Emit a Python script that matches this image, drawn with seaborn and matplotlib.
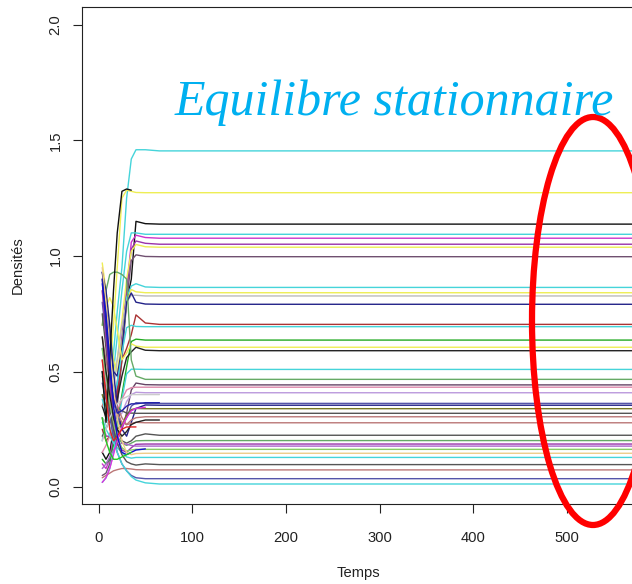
import numpy as np
import pandas as pd
import matplotlib
matplotlib.use("Agg")
import matplotlib.pyplot as plt
from matplotlib.patches import Ellipse
import seaborn as sns

nan = np.nan

# time points (Temps) at which the densities are read
temps = [4, 8, 12, 16, 20, 25, 30, 35, 40, 50, 65, 600]

# long trajectories (reach a stationary equilibrium)
s01 = [0.20, 0.30, 0.42, 0.58, 0.76, 0.95, 1.25, 1.42, 1.46, 1.46, 1.455, 1.455]
s02 = [0.55, 0.45, 0.50, 0.70, 0.95, 1.25, 1.285, 1.28, 1.275, 1.274, 1.274, 1.274]
s03 = [0.15, 0.12, 0.15, 0.25, 0.40, 0.62, 0.80, 0.90, 1.15, 1.14, 1.138, 1.138]
s04 = [0.40, 0.35, 0.38, 0.50, 0.65, 0.85, 1.02, 1.10, 1.10, 1.094, 1.094, 1.094]
s05 = [0.10, 0.08, 0.12, 0.22, 0.38, 0.60, 0.85, 1.06, 1.09, 1.08, 1.077, 1.077]
s06 = [0.30, 0.22, 0.22, 0.30, 0.45, 0.65, 0.85, 1.03, 1.065, 1.055, 1.051, 1.051]
s07 = [0.85, 0.70, 0.55, 0.50, 0.55, 0.72, 0.90, 1.02, 1.05, 1.04, 1.038, 1.038]
s08 = [0.05, 0.06, 0.10, 0.20, 0.35, 0.55, 0.80, 0.98, 1.005, 0.998, 0.997, 0.997]
s09 = [0.50, 0.40, 0.35, 0.38, 0.45, 0.60, 0.82, 0.87, 0.88, 0.866, 0.864, 0.864]
s10 = [0.97, 0.85, 0.70, 0.55, 0.50, 0.62, 0.80, 0.855, 0.845, 0.841, 0.841, 0.841]
s11 = [0.30, 0.28, 0.33, 0.42, 0.55, 0.70, 0.80, 0.83, 0.83, 0.827, 0.827, 0.827]
s12 = [0.93, 0.80, 0.62, 0.50, 0.48, 0.60, 0.80, 0.84, 0.80, 0.792, 0.791, 0.791]
s13 = [0.25, 0.20, 0.22, 0.30, 0.40, 0.55, 0.60, 0.66, 0.745, 0.71, 0.704, 0.704]
s14 = [0.60, 0.50, 0.42, 0.40, 0.45, 0.58, 0.69, 0.70, 0.695, 0.694, 0.694, 0.694]
s15 = [0.12, 0.10, 0.12, 0.18, 0.28, 0.40, 0.52, 0.63, 0.64, 0.636, 0.636, 0.636]
s16 = [0.70, 0.78, 0.82, 0.78, 0.68, 0.55, 0.58, 0.62, 0.61, 0.605, 0.605, 0.605]
s17 = [0.35, 0.30, 0.28, 0.30, 0.38, 0.48, 0.56, 0.585, 0.605, 0.592, 0.590, 0.590]
s18 = [0.02, 0.04, 0.08, 0.15, 0.25, 0.38, 0.49, 0.51, 0.51, 0.509, 0.509, 0.509]
s19 = [0.70, 0.85, 0.92, 0.93, 0.93, 0.92, 0.90, 0.55, 0.48, 0.466, 0.466, 0.466]
s20 = [0.90, 0.75, 0.55, 0.40, 0.30, 0.25, 0.32, 0.42, 0.45, 0.443, 0.442, 0.442]
s21 = [0.15, 0.18, 0.22, 0.28, 0.33, 0.38, 0.42, 0.43, 0.432, 0.432, 0.432, 0.432]
s22 = [0.55, 0.45, 0.38, 0.33, 0.30, 0.32, 0.37, 0.40, 0.41, 0.408, 0.408, 0.408]
s23 = [0.80, 0.65, 0.50, 0.38, 0.30, 0.26, 0.30, 0.35, 0.365, 0.362, 0.362, 0.362]
s24 = [0.93, 0.85, 0.70, 0.50, 0.35, 0.25, 0.22, 0.28, 0.34, 0.355, 0.354, 0.354]
s25 = [0.40, 0.35, 0.30, 0.26, 0.25, 0.27, 0.31, 0.335, 0.34, 0.339, 0.339, 0.339]
s26 = [0.22, 0.25, 0.30, 0.33, 0.34, 0.33, 0.32, 0.32, 0.319, 0.319, 0.319, 0.319]
s27 = [0.65, 0.55, 0.45, 0.38, 0.32, 0.28, 0.27, 0.29, 0.30, 0.304, 0.304, 0.304]
s28 = [0.35, 0.40, 0.42, 0.40, 0.35, 0.30, 0.27, 0.275, 0.28, 0.278, 0.278, 0.278]
s29 = [0.75, 0.60, 0.45, 0.33, 0.25, 0.20, 0.19, 0.20, 0.22, 0.23, 0.224, 0.224]
s30 = [0.48, 0.40, 0.32, 0.26, 0.22, 0.19, 0.18, 0.19, 0.20, 0.201, 0.201, 0.201]
s31 = [0.85, 0.65, 0.45, 0.30, 0.22, 0.16, 0.15, 0.17, 0.185, 0.186, 0.186, 0.186]
s32 = [0.08, 0.10, 0.13, 0.16, 0.18, 0.19, 0.185, 0.18, 0.177, 0.177, 0.177, 0.177]
s33 = [0.60, 0.48, 0.36, 0.27, 0.21, 0.17, 0.155, 0.16, 0.163, 0.163, 0.163, 0.163]
s34 = [0.95, 0.80, 0.60, 0.42, 0.30, 0.20, 0.15, 0.14, 0.145, 0.146, 0.146, 0.146]
s35 = [0.28, 0.25, 0.22, 0.19, 0.17, 0.15, 0.13, 0.125, 0.128, 0.128, 0.128, 0.128]
s36 = [0.50, 0.42, 0.33, 0.25, 0.19, 0.14, 0.11, 0.10, 0.095, 0.10, 0.097, 0.097]
s37 = [0.04, 0.05, 0.06, 0.07, 0.075, 0.08, 0.08, 0.078, 0.075, 0.074, 0.074, 0.074]
s38 = [0.45, 0.38, 0.30, 0.22, 0.15, 0.10, 0.07, 0.05, 0.04, 0.036, 0.036, 0.036]
s39 = [0.38, 0.32, 0.26, 0.20, 0.15, 0.10, 0.07, 0.045, 0.03, 0.018, 0.013, 0.013]

# short trajectories (runs that stop early)
c01 = [0.50, 0.28, 0.55, 0.85, 1.10, 1.28, 1.29, 1.285, nan, nan, nan, nan]
c02 = [0.20, 0.25, 0.30, 0.33, 0.36, 0.38, 0.39, 0.40, 0.40, 0.40, 0.40, nan]
c03 = [0.90, 0.70, 0.50, 0.38, 0.32, 0.33, 0.35, 0.36, 0.36, 0.365, 0.365, nan]
c04 = [0.65, 0.50, 0.40, 0.30, 0.25, 0.22, 0.24, 0.27, 0.28, 0.29, 0.29, nan]
c05 = [0.02, 0.04, 0.08, 0.14, 0.20, 0.26, 0.30, 0.33, 0.34, 0.345, nan, nan]
c06 = [0.55, 0.40, 0.25, 0.20, 0.22, 0.25, 0.26, 0.26, 0.26, nan, nan, nan]
c07 = [0.88, 0.75, 0.55, 0.35, 0.22, 0.15, 0.14, 0.15, 0.16, 0.165, nan, nan]
c08 = [0.30, 0.20, 0.15, 0.12, 0.12, 0.13, 0.14, 0.15, nan, nan, nan, nan]

series = [s01, s02, s03, s04, s05, s06, s07, s08, s09, s10, s11, s12, s13,
          s14, s15, s16, s17, s18, s19, s20, s21, s22, s23, s24, s25, s26,
          s27, s28, s29, s30, s31, s32, s33, s34, s35, s36, s37, s38, s39,
          c01, c02, c03, c04, c05, c06, c07, c08]

colors = ["#45D4DA", "#EEEE55", "#111111", "#45D4DA", "#CC33CC", "#9933AA",
          "#EEEE55", "#705070", "#45D4DA", "#EEEE55", "#BBBBBB", "#222288",
          "#AA3333", "#45D4DA", "#22AA22", "#EEEE55", "#222222", "#45D4DA",
          "#66AA66", "#664466", "#DD88AA", "#BB99DD", "#5555AA", "#222288",
          "#777722", "#555555", "#BB7777", "#BB7777", "#555555", "#66AA66",
          "#9933AA", "#AA66CC", "#88CC66", "#EECC88", "#45D4DA", "#555555",
          "#BB7777", "#5555AA", "#45D4DA",
          "#111111", "#CCCCCC", "#2222AA", "#222222", "#DD33DD", "#DD2222",
          "#1111CC", "#22CC22"]

rows = []
for i, vals in enumerate(series):
    for t, v in zip(temps, vals):
        if not np.isnan(v):
            rows.append({"Temps": t, "Densités": v, "serie": f"s{i}"})
df = pd.DataFrame(rows)
palette = {f"s{i}": c for i, c in enumerate(colors)}

sns.set_style("ticks")
plt.rcParams["font.family"] = ["Liberation Sans", "DejaVu Sans"]

fig = plt.figure(figsize=(6.32, 5.84), dpi=100)
W, H = 632, 584
ax = fig.add_axes([81.5 / W, 80 / H, (660 - 81.5) / W, (504 - 7) / H])

sns.lineplot(data=df, x="Temps", y="Densités", hue="serie", palette=palette,
             legend=False, estimator=None, sort=False, linewidth=1.0, ax=ax)

# pixel mapping: x 0 -> 98.5 px, 0.937 px/unit ; y 0 -> 487 px, 231 px/unit
ax.set_xlim((81.5 - 98.5) / 0.937, (660 - 98.5) / 0.937)
ax.set_ylim((487 - 504) / 231, (487 - 7) / 231)

ax.set_xticks([0, 100, 200, 300, 400, 500])
ax.set_yticks([0.0, 0.5, 1.0, 1.5, 2.0])
ax.set_yticklabels(["0.0", "0.5", "1.0", "1.5", "2.0"], rotation=90, va="center")
ax.tick_params(axis="both", direction="out", length=6.8, width=0.8, colors="#222222",
               labelsize=10.6, labelcolor="#222222")
ax.tick_params(axis="x", pad=12.5)
ax.tick_params(axis="y", pad=6.8)
for sp in ax.spines.values():
    sp.set_linewidth(0.8)
    sp.set_color("#222222")

ax.set_xlabel("Temps", fontsize=10.6, color="#222222")
ax.set_ylabel("Densités", fontsize=10.6, color="#222222")
ax.xaxis.label.set_va("center")
ax.yaxis.label.set_va("center")
ax.xaxis.set_label_coords((358 - 81.5) / (660 - 81.5), -(573 - 504) / 497)
ax.yaxis.set_label_coords(-(81.5 - 18) / (660 - 81.5), (504 - 265) / 497)

# red ellipse highlighting the stationary part
ell = Ellipse(((593 - 98.5) / 0.937, (487 - 321) / 231),
              width=122 / 0.937, height=408 / 231,
              fill=False, edgecolor="#FF0000", linewidth=4.5, clip_on=False,
              zorder=10)
ax.add_patch(ell)

fig.text(175 / W, 1 - 115 / H, "Equilibre stationnaire", color="#00B0F0",
         fontsize=36, style="italic", family=["Liberation Serif", "DejaVu Serif"],
         ha="left", va="baseline")

fig.savefig("out.png", dpi=100)
